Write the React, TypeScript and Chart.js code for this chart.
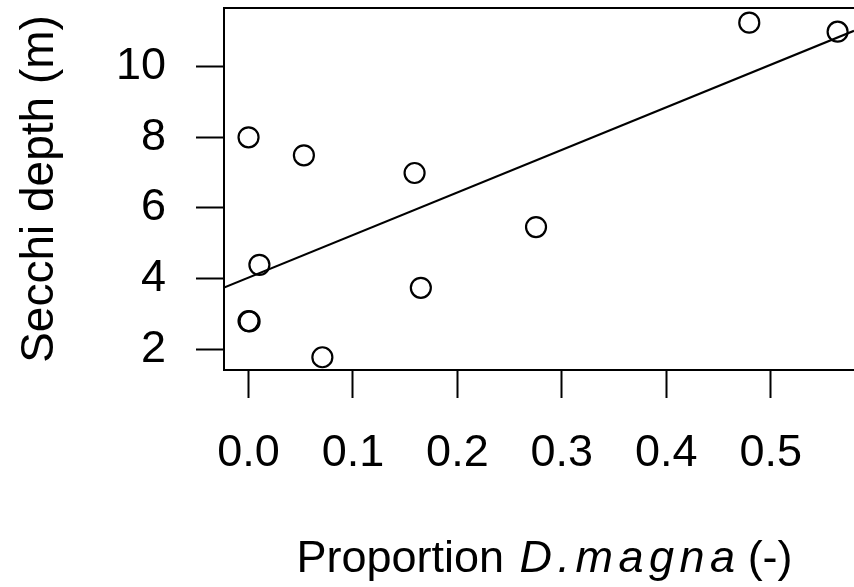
import React, { useEffect, useRef } from "react";
import { Chart, registerables } from "chart.js";

Chart.register(...registerables);

// Data
const proportionDmagna = [0.0, 0.053, 0.159, 0.0104, 0.0, 0.001, 0.0707, 0.165, 0.2753, 0.4795, 0.5641];
const secchiDepth = [8.0, 7.49, 6.99, 4.39, 2.8, 2.79, 1.775, 3.74, 5.46, 11.245, 10.99];

// Fitted regression line (intercept, slope)
const fitIntercept = 4.03;
const fitSlope = 12.05;

const xTicks = [0.0, 0.1, 0.2, 0.3, 0.4, 0.5];
const yTicks = [2, 4, 6, 8, 10];

const X_MIN = -0.0235;
const X_MAX = 0.5798;
const Y_MIN = 1.414;
const Y_MAX = 11.66;

const FONT = '"Liberation Sans", Arial, Helvetica, sans-serif';
const W = 854;
const H = 587;

const titlesPlugin = {
  id: "rTitles",
  afterDraw(chart: any) {
    const ctx = chart.ctx as CanvasRenderingContext2D;
    const area = chart.chartArea;
    ctx.save();
    // top box line
    ctx.strokeStyle = "#000";
    ctx.lineWidth = 2;
    ctx.beginPath();
    ctx.moveTo(area.left - 1, area.top);
    ctx.lineTo(area.right, area.top);
    ctx.stroke();

    ctx.fillStyle = "#000";
    // y title
    ctx.save();
    ctx.translate(53, (area.top + area.bottom) / 2);
    ctx.rotate(-Math.PI / 2);
    ctx.font = `46px ${FONT}`;
    ctx.textAlign = "center";
    ctx.textBaseline = "alphabetic";
    ctx.fillText("Secchi depth (m)", 0, 0);
    ctx.restore();

    // x title with italic species name
    const p1 = "Proportion ";
    const p2 = "D.magna";
    const p3 = " (-)";
    const normal = `45px ${FONT}`;
    const italic = `italic 45px ${FONT}`;
    const spacing = 5.5;
    ctx.textBaseline = "alphabetic";
    ctx.textAlign = "left";
    ctx.font = normal;
    const w1 = ctx.measureText(p1).width;
    const w3 = ctx.measureText(p3).width;
    ctx.font = italic;
    let w2 = 0;
    for (const ch of p2) w2 += ctx.measureText(ch).width + spacing;
    w2 -= spacing;
    const total = w1 + w2 + w3 + 3;
    const cx = 544.5;
    let x = cx - total / 2;
    const y = 572;
    ctx.font = normal;
    ctx.fillText(p1, x, y);
    x += w1 + 3;
    ctx.font = italic;
    for (const ch of p2) {
      ctx.fillText(ch, x, y);
      x += ctx.measureText(ch).width + spacing;
    }
    x -= spacing;
    ctx.font = normal;
    ctx.fillText(p3, x, y);
    ctx.restore();
  },
};

function zeroPadding(scale: any) {
  scale.paddingTop = 0;
  scale.paddingBottom = 0;
  scale.paddingLeft = 0;
  scale.paddingRight = 0;
}

export default function App() {
  const canvasRef = useRef<HTMLCanvasElement | null>(null);

  useEffect(() => {
    document.body.style.margin = "0";
    const canvas = canvasRef.current;
    if (!canvas) return;

    const points = proportionDmagna.map((x, i) => ({ x, y: secchiDepth[i] }));
    const fitLine = [X_MIN, X_MAX].map((x) => ({ x, y: fitIntercept + fitSlope * x }));

    const chart = new Chart(canvas, {
      type: "scatter",
      data: {
        datasets: [
          {
            label: "Observations",
            data: points,
            pointRadius: 10,
            pointHoverRadius: 10,
            pointBorderWidth: 2.2,
            pointBorderColor: "#000",
            pointBackgroundColor: "rgba(0,0,0,0)",
            showLine: false,
            clip: false,
          } as any,
          {
            label: "Fit",
            type: "line",
            data: fitLine,
            borderColor: "#000",
            borderWidth: 2.2,
            pointRadius: 0,
            fill: false,
          } as any,
        ],
      },
      options: {
        responsive: false,
        animation: false,
        devicePixelRatio: 1,
        layout: { autoPadding: false, padding: { top: 8, left: 0, right: 0, bottom: 0 } },
        plugins: {
          legend: { display: false },
          tooltip: { enabled: false },
          title: { display: false },
        },
        scales: {
          x: {
            type: "linear",
            min: X_MIN,
            max: X_MAX,
            afterFit(scale: any) {
              scale.height = 217;
              zeroPadding(scale);
            },
            afterBuildTicks(scale: any) {
              scale.ticks = xTicks.map((v) => ({ value: v }));
            },
            grid: {
              display: true,
              drawOnChartArea: false,
              drawTicks: true,
              tickLength: 28,
              tickWidth: 2,
              tickColor: "#000",
            },
            border: { display: true, color: "#000", width: 2 },
            ticks: {
              color: "#000",
              font: { family: FONT, size: 45, lineHeight: 1.2 },
              padding: 29,
              maxRotation: 0,
              autoSkip: false,
              callback: (v: any) => Number(v).toFixed(1),
            },
          },
          y: {
            type: "linear",
            min: Y_MIN,
            max: Y_MAX,
            afterFit(scale: any) {
              scale.width = 224;
              zeroPadding(scale);
            },
            afterBuildTicks(scale: any) {
              scale.ticks = yTicks.map((v) => ({ value: v }));
            },
            grid: {
              display: true,
              drawOnChartArea: false,
              drawTicks: true,
              tickLength: 28,
              tickWidth: 2,
              tickColor: "#000",
            },
            border: { display: true, color: "#000", width: 2 },
            ticks: {
              color: "#000",
              font: { family: FONT, size: 45, lineHeight: 1.2 },
              padding: 30,
              autoSkip: false,
              callback: (v: any) => String(v),
            },
          },
        },
      },
      plugins: [titlesPlugin],
    });

    return () => {
      chart.destroy();
    };
  }, []);

  return (
    <div style={{ position: "absolute", left: 0, top: 0, width: W, height: H, background: "#fff" }}>
      <canvas ref={canvasRef} width={W} height={H} style={{ width: W, height: H, display: "block" }} />
    </div>
  );
}
